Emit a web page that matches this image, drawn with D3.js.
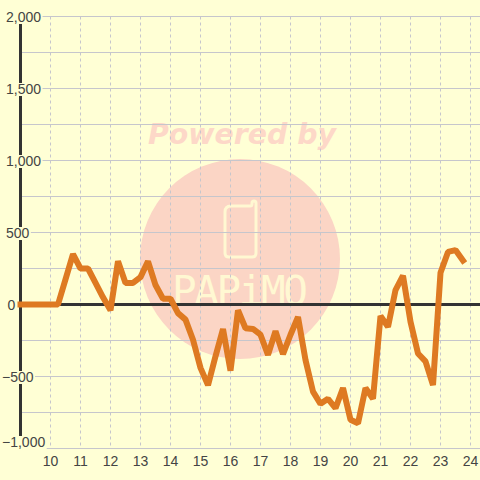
<!DOCTYPE html>
<html><head><meta charset="utf-8">
<script src="https://cdn.jsdelivr.net/npm/d3@7"></script>
<style>html,body{margin:0;padding:0;background:#ffffd5}svg{display:block}text{font-family:"Liberation Sans",Arial,sans-serif}</style>
</head><body><svg id="c" width="480" height="480"></svg>
<script>
const hours = [9,9.25,9.5,9.75,10,10.25,10.5,10.75,11,11.25,11.5,11.75,12,12.25,12.5,12.75,13,13.25,13.5,13.75,14,14.25,14.5,14.75,15,15.25,15.5,15.75,16,16.25,16.5,16.75,17,17.25,17.5,17.75,18,18.25,18.5,18.75,19,19.25,19.5,19.75,20,20.25,20.5,20.75,21,21.25,21.5,21.75,22,22.25,22.5,22.75,23,23.25,23.5,23.75];
const values = [0,0,0,0,0,0,175,350,250,250,150,50,-40,300,150,150,190,300,135,40,40,-60,-105,-245,-440,-560,-360,-170,-460,-40,-165,-170,-210,-350,-185,-345,-210,-87,-385,-605,-690,-655,-720,-580,-800,-825,-580,-655,-80,-155,100,200,-120,-340,-395,-560,220,365,378,305];
const yLabelled = [2000,1500,1000,500,0,-500,-1000];
const yMinor = [1750,1250,750,250,-250,-750];
const xTicks = d3.range(10,25);

const svg = d3.select("#c");
const x = d3.scaleLinear().domain([9,24]).range([20.5,470.5]);
const y = d3.scaleLinear().domain([-1000,2000]).range([448.5,16.5]);
const grid = "#c6c6cc", dark = "#333333", ink = "#444444", bg = "#ffffd5", pink = "#fbd5c5";

svg.append("rect").attr("width",480).attr("height",480).attr("fill",bg);

// watermark
svg.append("circle").attr("cx",240).attr("cy",259).attr("r",100).attr("fill",pink);
svg.append("text").attr("x",148).attr("y",144).attr("textLength",188).attr("lengthAdjust","spacingAndGlyphs")
  .style("font-family","'DejaVu Sans'").style("font-weight","bold").style("font-style","italic").style("font-size","29px")
  .attr("fill","#fdd8c8").text("Powered by");
svg.append("path").attr("fill","none").attr("stroke","#fff8d2").attr("stroke-width",3)
  .attr("d","M231 206 H250 Q252 206 252 204 V203 Q252 201 254 201 Q256 201 256 203 V253 Q256 257 252 257 H229 Q225 257 225 253 V212 Q225 206 231 206 Z");
svg.append("text").attr("x",172).attr("y",305).attr("textLength",136).attr("lengthAdjust","spacing")
  .style("font-family","'DejaVu Sans Mono'").style("font-size","41px").attr("fill","#fff8d2").text("PAPiMO");

// grid
svg.append("g").selectAll("line").data(xTicks).join("line")
  .attr("x1",d=>x(d)).attr("x2",d=>x(d)).attr("y1",y(2000)).attr("y2",y(-1000))
  .attr("stroke",grid).attr("stroke-dasharray","3,3");
svg.append("g").selectAll("line").data(yLabelled.concat(yMinor).filter(d=>d!==0)).join("line")
  .attr("x1",x(9)).attr("x2",480).attr("y1",d=>y(d)).attr("y2",d=>y(d)).attr("stroke",grid).attr("stroke-width",1);

// axes
svg.append("line").attr("x1",x(9)).attr("x2",x(9)).attr("y1",y(2000)).attr("y2",y(-1000)).attr("stroke",dark).attr("stroke-width",3);
svg.append("line").attr("x1",x(9)).attr("x2",480).attr("y1",y(0)).attr("y2",y(0)).attr("stroke",dark).attr("stroke-width",3);

// y labels on a knock-out box
const fmt = d3.format(",");
const yl = svg.append("g").selectAll("g").data(yLabelled).join("g")
  .attr("transform",d=>`translate(${d===0?7.5:(d<0?2:6)},${d===-1000?y(d)-1.5:y(d)+5.5})`);
const labels = yl.append("text").attr("fill",ink).style("font-size","14px").text(d=>fmt(d));
labels.each(function(){
  const w=this.getComputedTextLength();
  d3.select(this.parentNode).insert("rect","text").attr("x",-1).attr("y",-11).attr("width",w+2.5).attr("height",13).attr("fill",bg);
});

// x labels
svg.append("g").selectAll("text").data(xTicks).join("text")
  .attr("x",d=>x(d)).attr("y",466).attr("text-anchor","middle").attr("fill",ink).style("font-size","14px").text(d=>d);

// series
const line = d3.line().x((d,i)=>x(hours[i])).y(d=>y(d));
svg.append("path").datum(values).attr("d",line).attr("fill","none").attr("stroke","#de7a22")
  .attr("stroke-width",6).attr("stroke-linejoin","bevel").attr("stroke-linecap","square");
</script></body></html>
